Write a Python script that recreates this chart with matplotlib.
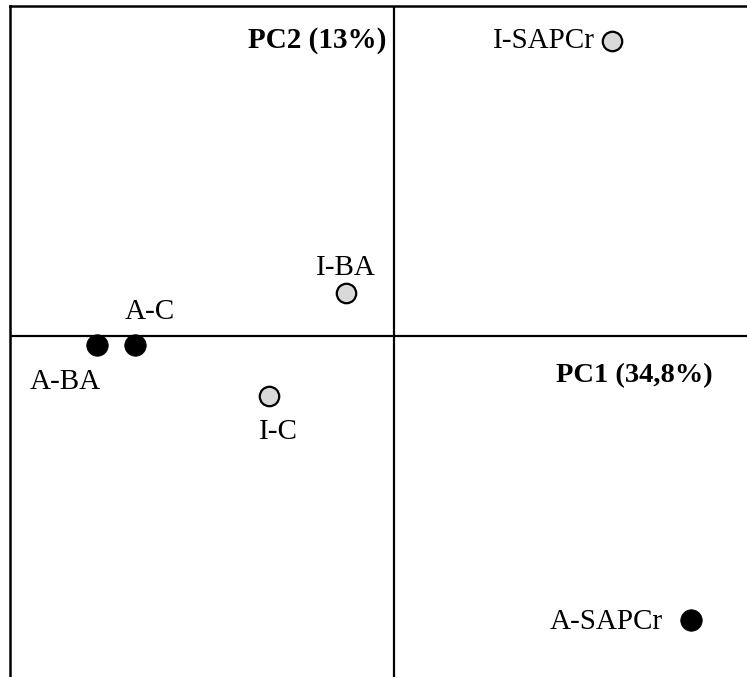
import matplotlib
matplotlib.use("Agg")
import matplotlib.pyplot as plt

# Data (PCA scores)
labels = ["I-SAPCr", "I-BA", "A-C", "A-BA", "I-C", "A-SAPCr"]
pc1 = [2.18, -0.48, -2.59, -2.97, -1.25, 2.97]
pc2 = [2.95, 0.43, -0.09, -0.09, -0.60, -2.84]
group = ["I", "I", "A", "A", "I", "A"]
axis_labels = ["PC1 (34,8%)", "PC2 (13%)"]

# label offsets in pixels (dx, dy, ha)
offsets = {
    "I-SAPCr": (-17, 0, "right"),
    "I-BA": (0, 25, "center"),
    "A-C": (15, 33, "center"),
    "A-BA": (-32, -37, "center"),
    "I-C": (9, -36, "center"),
    "A-SAPCr": (-28, -2, "right"),
}

plt.rcParams['font.family'] = ['Liberation Serif', 'DejaVu Serif']
dpi = 100
fig = plt.figure(figsize=(7.47, 6.77), dpi=dpi)
W, H = 747, 677
ax = fig.add_axes([10 / W, 0, 1 - 10 / W, 1 - 6 / H])
ax.set_xlim(-3.84, 3.53)
ax.set_ylim(-3.41, 3.30)
for s in ["right", "bottom"]:
    ax.spines[s].set_visible(False)
for s in ["top", "left"]:
    ax.spines[s].set_linewidth(1.8)
ax.set_xticks([])
ax.set_yticks([])
ax.axhline(0, color="black", lw=1.6, zorder=1)
ax.axvline(0, color="black", lw=1.6, zorder=1)

pt = 72 / dpi
for lab, x, y, g in zip(labels, pc1, pc2, group):
    if g == "A":
        ax.plot(x, y, "o", ms=15.5, mfc="black", mec="black", mew=0.5, zorder=3)
    else:
        ax.plot(x, y, "o", ms=14, mfc="#d9d9d9", mec="black", mew=1.6, zorder=3)
    dx, dy, ha = offsets[lab]
    ax.annotate(lab, (x, y), xytext=(dx * pt, dy * pt), textcoords="offset points",
                ha=ha, va="center", fontsize=21)

ax.annotate(axis_labels[1], (0, 2.96), xytext=(-8 * pt, 0), textcoords="offset points",
            ha="right", va="center", fontsize=21, fontweight="bold")
ax.text(2.40, -0.40, axis_labels[0], ha="center", va="center", fontsize=20.5,
        fontweight="bold")

fig.savefig("out.png", dpi=dpi)
